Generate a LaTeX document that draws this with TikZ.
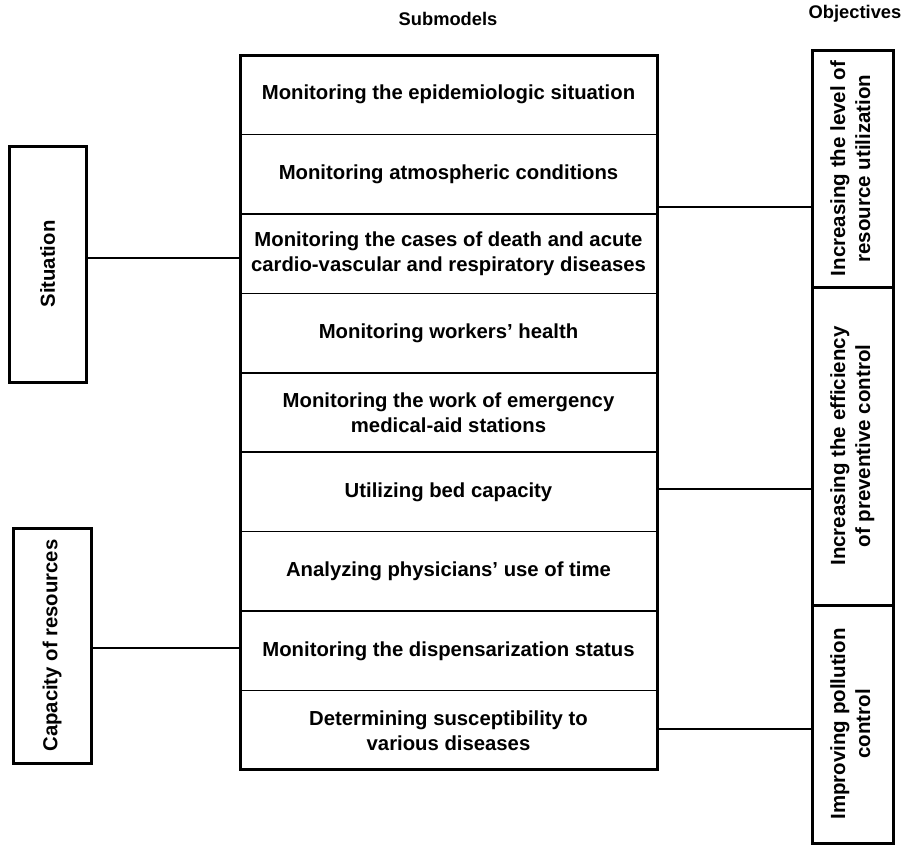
\documentclass[tikz,border=0pt]{standalone}
\usepackage{fontspec}
\setmainfont{Liberation Sans}
\begin{document}
\begin{tikzpicture}[x=1pt,y=-1pt,
  every node/.style={font=\bfseries\fontsize{20.3}{25}\selectfont},
  rowbox/.style={draw, line width=1.5pt, minimum width=417pt, minimum height=79.44pt,
    inner sep=0pt, outer sep=0pt, anchor=north west, align=center},
  sidebox/.style={draw, line width=3pt, inner sep=0pt, outer sep=0pt},
  vtext/.style={font=\bfseries\fontsize{20.5}{25}\selectfont},
  link/.style={line width=1.4pt},
  title/.style={font=\bfseries\fontsize{18.3}{22}\selectfont}]
\useasboundingbox (0,0) rectangle (909,849);

% titles
\node[title] (t1) at (448,19) {Submodels};
\node[title] (t2) at (855,14) {Objectives};

% middle column
\node[rowbox] (r1) at (240,55.00) {Monitoring the epidemiologic situation};
\node[rowbox] (r2) at (240,134.44) {Monitoring atmospheric conditions};
\node[rowbox] (r3) at (240,213.88) {Monitoring the cases of death and acute\\cardio-vascular and respiratory diseases};
\node[rowbox] (r4) at (240,293.32) {Monitoring workers' health};
\node[rowbox] (r5) at (240,372.76) {Monitoring the work of emergency\\medical-aid stations};
\node[rowbox] (r6) at (240,452.20) {Utilizing bed capacity};
\node[rowbox] (r7) at (240,531.64) {Analyzing physicians' use of time};
\node[rowbox] (r8) at (240,611.08) {Monitoring the dispensarization status};
\node[rowbox] (r9) at (240,690.52) {Determining susceptibility to\\various diseases};
\draw[line width=3pt] (r1.north west) rectangle (r9.south east);

% left boxes
\node[sidebox, minimum width=77pt, minimum height=236pt] (sit) at (47.5,264)
  {\rotatebox{90}{Situation}};
\node[sidebox, minimum width=78pt, minimum height=235pt] (cap) at (52,645.5)
  {\rotatebox{90}{Capacity of resources}};

% right boxes
\node[sidebox, vtext, minimum width=81pt, minimum height=237pt] (o1) at (852.5,168.5)
  {\rotatebox{90}{\begin{tabular}{@{}c@{}}Increasing the level of\\resource utilization\end{tabular}}};
\node[sidebox, vtext, minimum width=81pt, minimum height=318pt] (o2) at (852.5,446)
  {\rotatebox{90}{\begin{tabular}{@{}c@{}}Increasing the efficiency\\of preventive control\end{tabular}}};
\node[sidebox, vtext, minimum width=81pt, minimum height=238pt] (o3) at (852.5,724)
  {\rotatebox{90}{\begin{tabular}{@{}c@{}}Improving pollution\\control\end{tabular}}};

% connectors
\draw[link] ([yshift=6pt]sit.east) -- ([yshift=6pt]sit.east -| r3.west);
\draw[link] ([yshift=-2.5pt]cap.east) -- ([yshift=-2.5pt]cap.east -| r8.west);
\draw[link] ([yshift=-38.5pt]o1.west) -- ([yshift=-38.5pt]o1.west -| r2.east);
\draw[link] ([yshift=-43pt]o2.west) -- ([yshift=-43pt]o2.west -| r6.east);
\draw[link] ([yshift=-5pt]o3.west) -- ([yshift=-5pt]o3.west -| r9.east);
\end{tikzpicture}
\end{document}
